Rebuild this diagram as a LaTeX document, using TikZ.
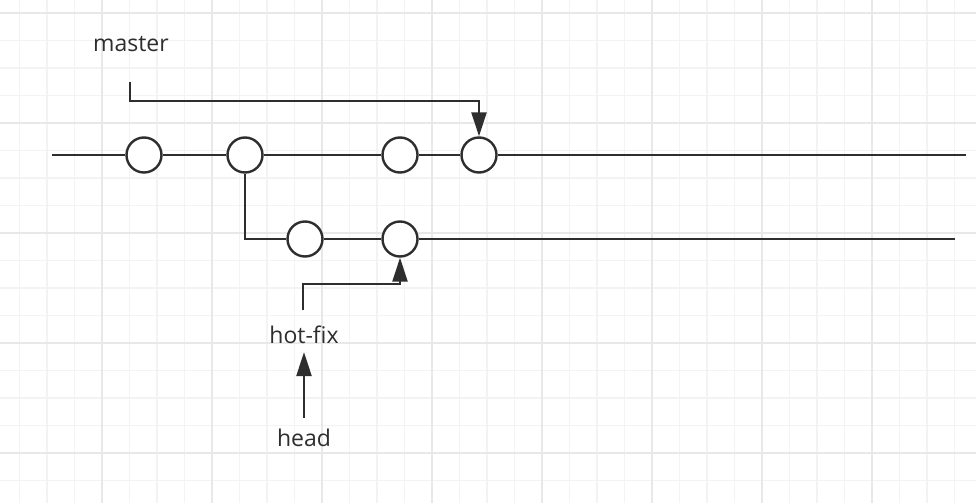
\documentclass[tikz,border=0pt]{standalone}
\usepackage{fontspec}
\setmainfont{Open Sans}
\usetikzlibrary{arrows.meta}
\definecolor{linegray}{HTML}{2E2E2E}
\definecolor{minorgray}{HTML}{F3F3F3}
\definecolor{majorgray}{HTML}{E8E8E8}
\begin{document}
\begin{tikzpicture}[x=1pt,y=-1pt]
\tikzstyle{commit} = [shape=circle, draw=linegray, fill=white, line width=2.4pt, minimum size=35pt, inner sep=0pt]
\tikzstyle{branch} = [draw=linegray, line width=2.4pt]
\tikzstyle{pointer} = [branch, -{Triangle[length=24pt,width=15pt]}]
\tikzstyle{tag} = [font=\fontsize{23}{27}\selectfont, text=linegray, inner sep=0pt]

\useasboundingbox (0,0) rectangle (976,503);
\fill[white] (0,0) rectangle (976,503);

% grid
\foreach \x in {19.5,47,...,976} \draw[minorgray, line width=1.2pt] (\x,0) -- (\x,503);
\foreach \y in {13,40.5,...,503} \draw[minorgray, line width=1.2pt] (0,\y) -- (976,\y);
\foreach \x in {102,212,...,976} \draw[majorgray, line width=1.2pt] (\x,0) -- (\x,503);
\foreach \y in {13,123,...,503} \draw[majorgray, line width=1.2pt] (0,\y) -- (976,\y);

% master line
\coordinate (m0) at (52,155);
\coordinate (m9) at (966,155);
\node[commit] (c1) at (144,155) {};
\node[commit] (c2) at (245,155) {};
\node[commit] (c3) at (400,155) {};
\node[commit] (c4) at (479,155) {};
\draw[branch] (m0) -- (c1) (c1) -- (c2) (c2) -- (c3) (c3) -- (c4) (c4) -- (m9);

% hot-fix line
\coordinate (h9) at (955,239);
\node[commit] (h1) at (305,239) {};
\node[commit] (h2) at (400,239) {};
\draw[branch] (c2) |- (h1);
\draw[branch] (h1) -- (h2) (h2) -- (h9);

% pointers
\node[tag] (master) at (131,44) {master};
\node[tag] (hotfix) at (304,335) {hot-fix};
\node[tag] (head) at (304,438) {head};
\coordinate (mstart) at (130,82);
\coordinate (fstart) at (303,310);
\draw[pointer] (mstart) -- ++(0,19) -| (c4);
\draw[pointer] (fstart) -- ++(0,-26) -| (h2);
\draw[pointer, shorten <=11pt, shorten >=8pt] (head) -- (hotfix);

\end{tikzpicture}
\end{document}
